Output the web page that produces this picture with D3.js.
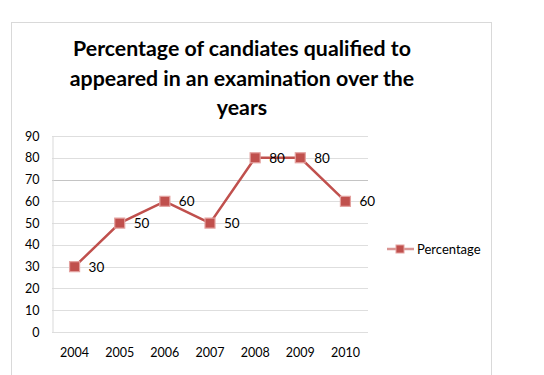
<!DOCTYPE html>
<html>
<head>
<meta charset="utf-8">
<script src="https://cdnjs.cloudflare.com/ajax/libs/d3/7.8.5/d3.min.js"></script>
<style>
  body { margin: 0; background: #fff; }
  svg { display: block; font-family: Lato, "Open Sans", sans-serif; }
</style>
</head>
<body>
<div id="chart"></div>
<script>
var years = ['2004', '2005', '2006', '2007', '2008', '2009', '2010'];
var percentage = [30, 50, 60, 50, 80, 80, 60];
var yTicks = [0, 10, 20, 30, 40, 50, 60, 70, 80, 90];
var titleLines = ['Percentage of candiates qualified to', 'appeared in an examination over the', 'years'];
var seriesName = 'Percentage';

var width = 544, height = 375;
var margin = { top: 136, left: 52, right: 176, bottom: 43 };
var red = '#C0504D';
var font = 'Lato, "Open Sans", sans-serif';

var svg = d3.select('#chart').append('svg')
    .attr('width', width)
    .attr('height', height);

// chart border
svg.append('rect')
    .attr('x', 11.5).attr('y', 22.5)
    .attr('width', 480).attr('height', 380)
    .attr('fill', 'none').attr('stroke', '#d9d9d9');

// title
svg.append('g').selectAll('text')
    .data(titleLines)
    .enter().append('text')
    .attr('x', 242)
    .attr('y', (d, i) => 56 + i * 29.5)
    .attr('text-anchor', 'middle')
    .attr('font-size', 21.3)
    .attr('font-weight', 'bold')
    .attr('fill', '#000')
    .text(d => d);

var x = d3.scaleBand().domain(years)
    .range([margin.left, width - margin.right]);
var y = d3.scaleLinear().domain([0, 90])
    .range([height - margin.bottom, margin.top]);

// gridlines
svg.append('g').selectAll('line')
    .data(yTicks)
    .enter().append('line')
    .attr('x1', margin.left).attr('x2', width - margin.right)
    .attr('y1', d => Math.round(y(d)) + 0.5).attr('y2', d => Math.round(y(d)) + 0.5)
    .attr('stroke', d => d === 70 ? '#c4c4c4' : '#dedede');

// y axis
var yAxis = svg.append('g')
    .attr('transform', `translate(${margin.left + 0.5},0)`)
    .call(d3.axisLeft(y).tickValues(yTicks).tickSize(0).tickPadding(13));
yAxis.select('.domain').attr('stroke', '#d9d9d9');
yAxis.selectAll('text').attr('font-size', 12.5).attr('fill', '#000')
    .attr('font-family', font);

// x axis
var xAxis = svg.append('g')
    .attr('transform', `translate(0,${height - margin.bottom})`)
    .call(d3.axisBottom(x).tickSize(0).tickPadding(16));
xAxis.select('.domain').remove();
xAxis.selectAll('text').attr('font-size', 12.5).attr('fill', '#000')
    .attr('font-family', font);

var cx = (d, i) => x(years[i]) + x.bandwidth() / 2;

var line = d3.line()
    .x(cx)
    .y(d => y(d));

svg.append('path')
    .datum(percentage)
    .attr('d', line)
    .attr('fill', 'none')
    .attr('stroke', red)
    .attr('stroke-width', 2.5);

svg.append('g').selectAll('rect')
    .data(percentage)
    .enter().append('rect')
    .attr('x', (d, i) => cx(d, i) - 5)
    .attr('y', d => y(d) - 5)
    .attr('width', 10).attr('height', 10)
    .attr('fill', red)
    .attr('stroke', '#E3A19F')
    .attr('stroke-width', 1.2);

// data labels
svg.append('g').selectAll('text')
    .data(percentage)
    .enter().append('text')
    .attr('x', (d, i) => cx(d, i) + 14)
    .attr('y', d => y(d))
    .attr('dy', '0.36em')
    .attr('font-size', 13.5)
    .attr('fill', '#000')
    .text(d => d);

// legend
var legend = svg.append('g').attr('transform', 'translate(387,249)');
legend.append('line')
    .attr('x1', 0).attr('x2', 27)
    .attr('stroke', '#D99694').attr('stroke-width', 2.5);
legend.append('rect')
    .attr('x', 9).attr('y', -4).attr('width', 8).attr('height', 8)
    .attr('fill', red).attr('stroke', '#E3A19F');
legend.append('text')
    .attr('x', 30).attr('dy', '0.36em')
    .attr('font-size', 13).attr('fill', '#000')
    .text(seriesName);
</script>
</body>
</html>
